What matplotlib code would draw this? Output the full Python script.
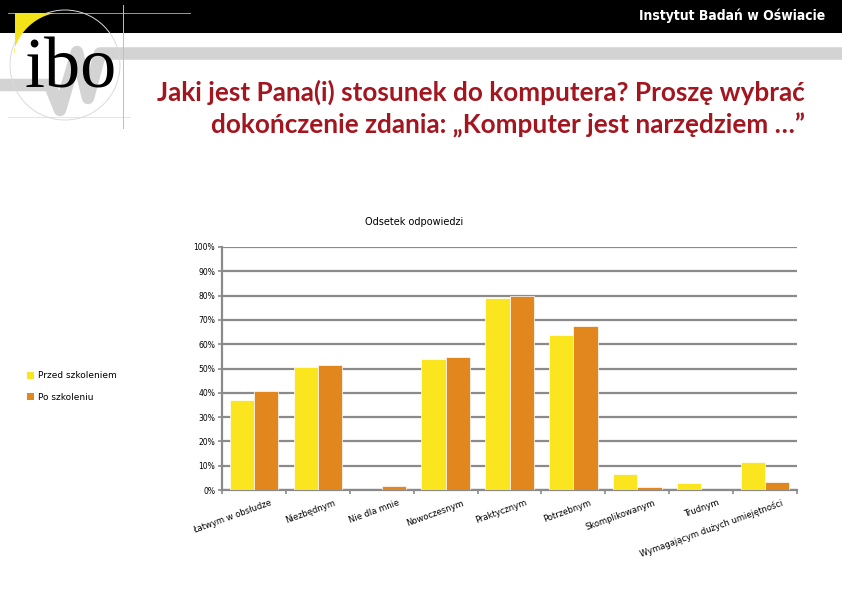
import matplotlib
matplotlib.use("Agg")
import matplotlib.pyplot as plt
import numpy as np
from matplotlib.patches import Polygon, Rectangle, Circle

# Data (percent of answers)
categories = ["Łatwym w obsłudze", "Niezbędnym", "Nie dla mnie", "Nowoczesnym",
              "Praktycznym", "Potrzebnym", "Skomplikowanym", "Trudnym",
              "Wymagającym dużych umiejętności"]
before = [37.0, 50.7, 0.0, 54.0, 79.2, 63.9, 6.5, 2.8, 11.5]
after = [40.9, 51.6, 1.5, 54.8, 80.0, 67.6, 1.4, 0.0, 3.1]
series_names = ["Przed szkoleniem", "Po szkoleniu"]
yticks = [0, 10, 20, 30, 40, 50, 60, 70, 80, 90, 100]

YELLOW = "#FBE51E"
ORANGE = "#E2861E"
GRID = "#8A8A8A"
TITLE_RED = "#A3161F"

W, H = 842, 595
fig = plt.figure(figsize=(W / 100, H / 100), dpi=100)

# --- slide decoration (pixel coordinates) ---
bg = fig.add_axes([0, 0, 1, 1])
bg.set_xlim(0, W)
bg.set_ylim(H, 0)
bg.axis("off")

bg.add_patch(Rectangle((0, 0), W, 33, color="black", lw=0))
# gray "pulse" band behind the logo
bg.plot([0, 50, 60, 77, 88, 100, W], [85, 85, 110, 52, 98, 53.5, 53.5],
        color="#D3D3D3", lw=9, solid_joinstyle="round", zorder=1)
# thin construction lines and circle
bg.plot([8, 190], [13, 13], color="#9A9A9A", lw=0.7, zorder=2)
bg.plot([8, 130], [117, 117], color="#E4E4E4", lw=0.7, zorder=2)
bg.plot([123, 123], [5, 128], color="#BFBFBF", lw=0.7, zorder=2)
bg.add_patch(Circle((65, 65), 55, fill=False, ec="#DADADA", lw=0.7, zorder=2))
# yellow wedge
t = np.linspace(np.arctan2(13 - 65, 55 - 65), np.arctan2(50 - 65, 15 - 65), 30)
arc = [(65 + 53 * np.cos(a), 65 + 53 * np.sin(a)) for a in t]
bg.add_patch(Polygon([(15, 13)] + arc + [(15, 55)], closed=True,
                     color="#F5E31A", lw=0, zorder=3))
bg.text(24, 87, "ibo", fontsize=52, family="Liberation Serif",
        color="black", va="baseline", ha="left", zorder=4)

bg.text(825, 16, "Instytut Badań w Oświacie", color="white", fontsize=10,
        fontweight="bold", fontstretch="condensed",
        family=["DejaVu Sans"], ha="right", va="center")

bg.text(805, 92, "Jaki jest Pana(i) stosunek do komputera? Proszę wybrać",
        color=TITLE_RED, fontsize=18.8, family="Lato", fontweight="bold",
        ha="right", va="center")
bg.text(805, 125, "dokończenie zdania: „Komputer jest narzędziem …”",
        color=TITLE_RED, fontsize=18.8, family="Lato", fontweight="bold",
        ha="right", va="center")

bg.text(414, 222, "Odsetek odpowiedzi", fontsize=7, ha="center", va="center")

# legend
bg.add_patch(Rectangle((27, 372), 7, 7, color=YELLOW, lw=0))
bg.add_patch(Rectangle((27, 393), 7, 7, color=ORANGE, lw=0))
bg.text(38, 376, series_names[0], fontsize=6.5, va="center")
bg.text(38, 397, series_names[1], fontsize=6.5, va="center")

# --- chart ---
ax = fig.add_axes([222 / W, 1 - 490 / H, 575 / W, 243 / H])
x = np.arange(len(categories))
bw = 0.38
ax.bar(x - bw / 2, before, bw, color=YELLOW, edgecolor="white", lw=0.5, zorder=3)
ax.bar(x + bw / 2, after, bw, color=ORANGE, edgecolor="white", lw=0.5, zorder=3)

ax.set_xlim(-0.5, len(categories) - 0.5)
ax.set_ylim(0, 100)
ax.set_yticks(yticks)
ax.set_yticklabels([f"{v}%" for v in yticks], fontsize=5.5)
ax.yaxis.grid(True, color=GRID, lw=1.6, zorder=0)
ax.set_axisbelow(True)
for s in ["top", "right"]:
    ax.spines[s].set_visible(False)
for s in ["left", "bottom"]:
    ax.spines[s].set_color(GRID)
    ax.spines[s].set_linewidth(1.6)
ax.tick_params(axis="y", length=3, color=GRID, width=1.2, pad=2)

# category boundary ticks on x axis
ax.set_xticks(np.arange(-0.5, len(categories), 1.0))
ax.set_xticklabels([])
ax.tick_params(axis="x", length=3, color=GRID, width=1.2)
for i, c in enumerate(categories):
    ax.annotate(c, xy=(i + 0.25, 0), xycoords=("data", "axes fraction"),
                xytext=(0, -6), textcoords="offset points",
                rotation=20, rotation_mode="anchor", ha="right", va="top",
                fontsize=6)

fig.savefig("out.png", dpi=100)
